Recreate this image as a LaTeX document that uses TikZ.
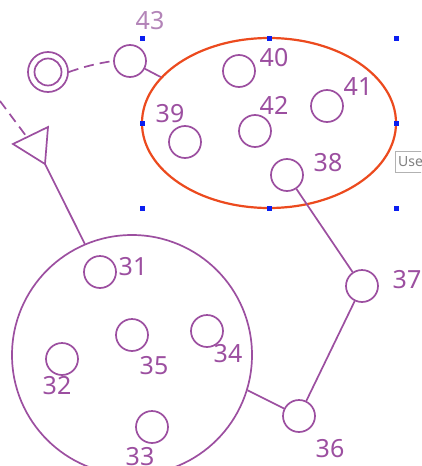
\documentclass[tikz,border=0pt]{standalone}
\usepackage{fontspec}
\setmainfont{Noto Sans}
\usetikzlibrary{calc,shapes.geometric}
\definecolor{pur}{HTML}{9C4FA0}
\definecolor{purlight}{HTML}{B384B8}
\definecolor{ellc}{HTML}{EC4A1E}
\definecolor{handle}{HTML}{0A1EF0}
\tikzset{
  st/.style={circle,draw=pur,line width=1.7pt,minimum size=32pt,inner sep=0pt},
  lbl/.style={text=pur,font=\fontsize{25}{25}\selectfont,inner sep=0pt},
  conn/.style={draw=pur,line width=1.7pt},
  hnd/.style={fill=handle,minimum size=5pt,inner sep=0pt,draw=none},
}
\begin{document}
\begin{tikzpicture}[x=1pt,y=-1pt]
\useasboundingbox (0,0) rectangle (421,466);
\fill[white] (0,0) rectangle (421,466);
% selection ellipse
\node[ellipse,draw=ellc,line width=2.2pt,minimum width=254pt,minimum height=170pt,inner sep=0pt] (ell) at (269,123) {};
% handles
\foreach \n/\x/\y in {h1/142/38,h2/269/38,h3/396/38,h4/142/123,h5/396/123,h6/142/208,h7/269/208,h8/396/208}
  \node[hnd] (\n) at (\x,\y) {};
% tooltip
\begin{scope}
\clip (0,0) rectangle (421,466);
\node[draw=gray!60,fill=white,text=gray,font=\fontsize{14}{14}\selectfont,anchor=west,minimum height=21pt,inner sep=3pt] (tip) at (395,162) {Use};
\end{scope}
% states
\node[st] (c43) at (130,61) {};
\node[st,minimum size=40pt] (dbl) at (48,72) {};
\node[circle,draw=pur,line width=1.7pt,minimum size=27pt,inner sep=0pt] (dblin) at (48,72) {};
\node[st] (c39) at (185,142) {};
\node[st] (c40) at (239,71) {};
\node[st] (c41) at (327,106) {};
\node[st] (c42) at (255,131) {};
\node[st] (c38) at (287,175) {};
\node[st] (c37) at (362,286) {};
\node[st] (c36) at (299,416) {};
\node[circle,draw=pur,line width=1.7pt,minimum size=240pt,inner sep=0pt] (big) at (132,355) {};
\node[st] (c31) at (100,272) {};
\node[st] (c35) at (132,335) {};
\node[st] (c32) at (62,359) {};
\node[st] (c33) at (152,427) {};
\node[st] (c34) at (207,331) {};
% triangle
\coordinate (t1) at (13,144);
\coordinate (t2) at (48,127);
\coordinate (t3) at (45,164);
\draw[conn,line join=miter] (t1) -- (t2) -- (t3) -- cycle;
\coordinate (dstart) at (0,101);
\coordinate (tedge) at ($(t1)!0.4!(t2)$);
% connectors
\draw[conn,dash pattern=on 10pt off 6pt] (dstart) -- (tedge);
\draw[conn,dash pattern=on 10pt off 6pt] (dbl.east) to[bend left=5] (c43.west);
\draw[conn] (c43) -- (ell.157);
\draw[conn] (t3) -- (big.113);
\draw[conn] (c38) -- (c37);
\draw[conn] (c37) -- (c36);
\draw[conn] (c36) -- (big.-17);
% labels
\node[lbl,text=purlight] (l43) at (150,21) {43};
\node[lbl] (l39) at (170,114) {39};
\node[lbl] (l40) at (274,58) {40};
\node[lbl] (l41) at (358,87) {41};
\node[lbl] (l42) at (274,105) {42};
\node[lbl] (l38) at (328,163) {38};
\node[lbl] (l37) at (407,280) {37};
\node[lbl] (l36) at (330,449) {36};
\node[lbl] (l31) at (133,267) {31};
\node[lbl] (l35) at (154,366) {35};
\node[lbl] (l32) at (57,386) {32};
\node[lbl] (l33) at (140,457) {33};
\node[lbl] (l34) at (228,354) {34};
\end{tikzpicture}
\end{document}
